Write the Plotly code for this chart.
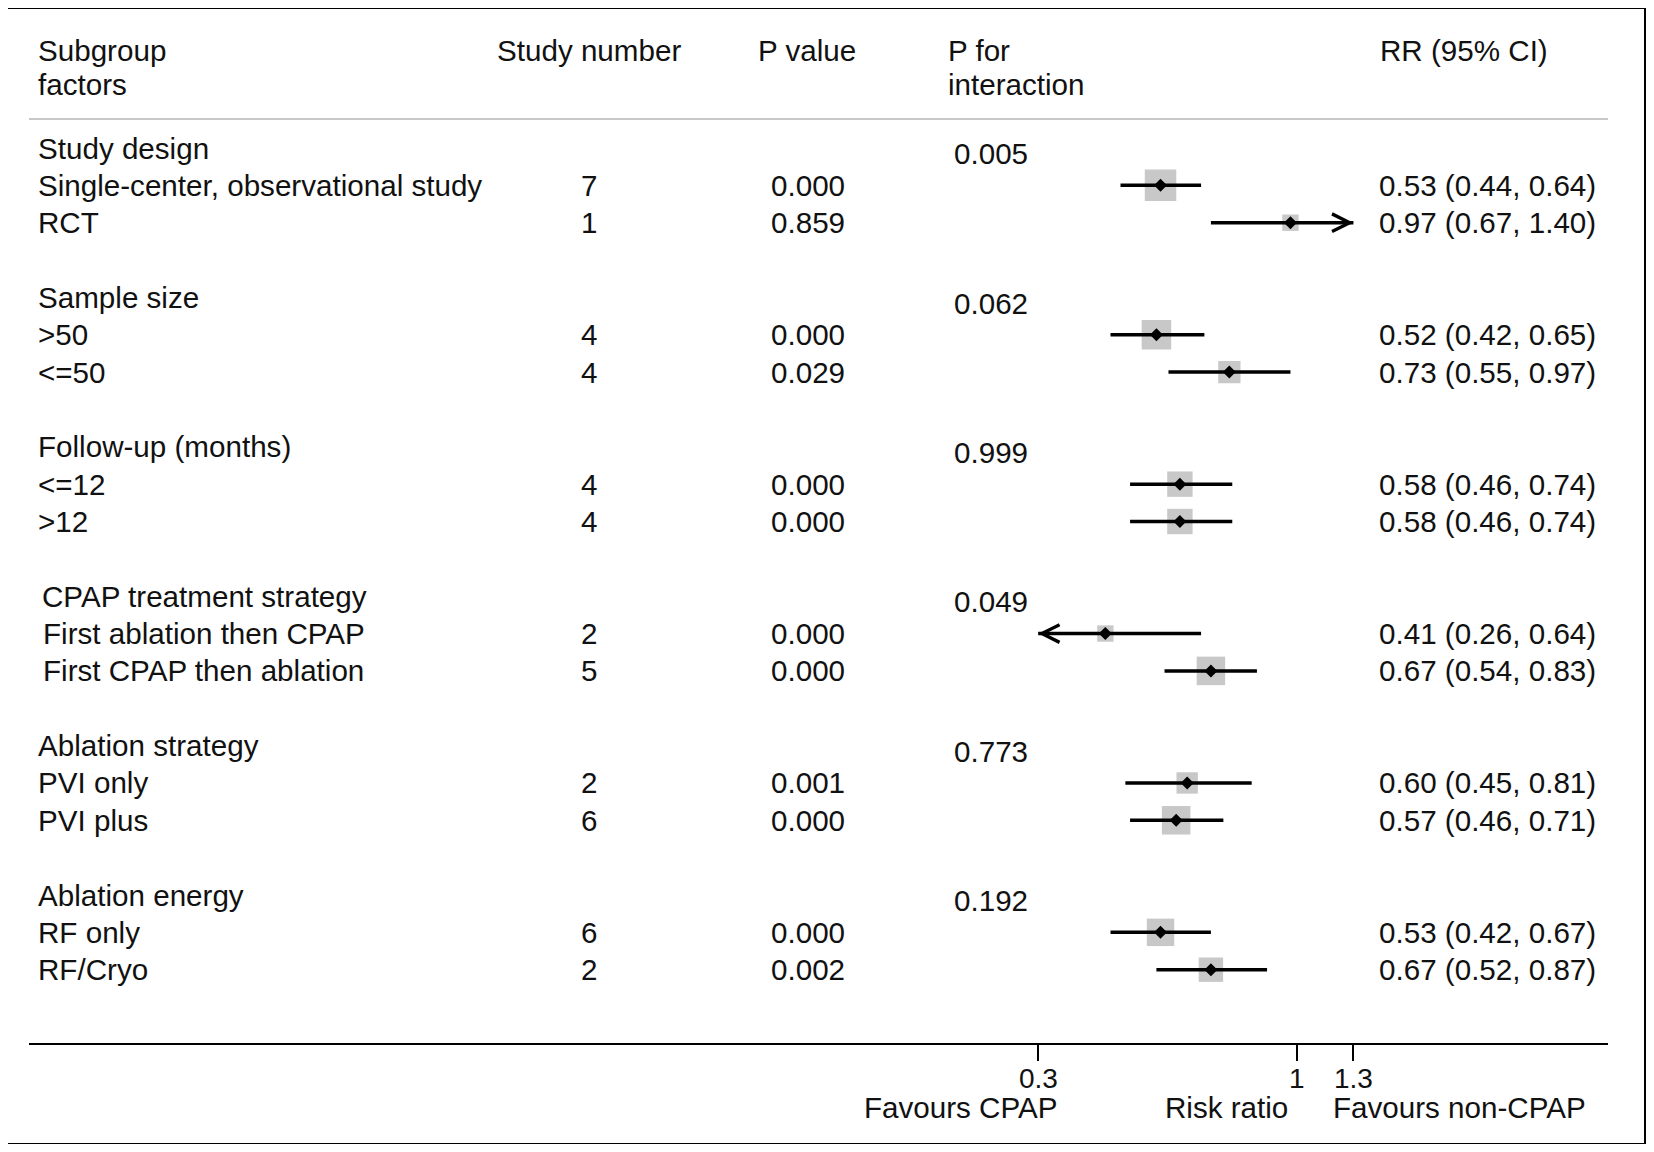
"""Forest plot of subgroup analyses: CPAP vs non-CPAP (risk ratio)."""

import math

import plotly.graph_objects as go

# ---- data -------------------------------------------------------------
GROUPS = [
    "Study design",
    "Sample size",
    "Follow-up (months)",
    "CPAP treatment strategy",
    "Ablation strategy",
    "Ablation energy",
]
P_INTERACTION = ["0.005", "0.062", "0.999", "0.049", "0.773", "0.192"]

SUBGROUPS = [
    "Single-center, observational study", "RCT",
    "&gt;50", "&lt;=50",
    "&lt;=12", "&gt;12",
    "First ablation then CPAP", "First CPAP then ablation",
    "PVI only", "PVI plus",
    "RF only", "RF/Cryo",
]
STUDY_N = [7, 1, 4, 4, 4, 4, 2, 5, 2, 6, 6, 2]
P_VALUES = ["0.000", "0.859", "0.000", "0.029", "0.000", "0.000",
            "0.000", "0.000", "0.001", "0.000", "0.000", "0.002"]
RR = [0.53, 0.97, 0.52, 0.73, 0.58, 0.58, 0.41, 0.67, 0.60, 0.57, 0.53, 0.67]
CI_LOW = [0.44, 0.67, 0.42, 0.55, 0.46, 0.46, 0.26, 0.54, 0.45, 0.46, 0.42, 0.52]
CI_HIGH = [0.64, 1.40, 0.65, 0.97, 0.74, 0.74, 0.64, 0.83, 0.81, 0.71, 0.67, 0.87]
WEIGHTS = [100, 27, 88, 50, 65, 65, 27, 82, 46, 82, 76, 60]  # relative study weight

AXIS_MIN, AXIS_MAX = 0.3, 1.3
TICKS = [0.3, 1, 1.3]
TICK_TEXT = ["0.3", "1", "1.3"]

# ---- layout geometry (screen pixels; the page body adds an 8px margin) ----
OFF = 8
W, H = 1654 - 2 * OFF, 1152 - 2 * OFF
PLOT_L, PLOT_R, PLOT_T, PLOT_B = 29, 1608, 119, 1043
ROW0, PITCH = 148, 37.35
PX_PER_DECADE = 495
X_ONE = 1297
LABEL_X = 36

FONT = "Liberation Sans, Arial, sans-serif"
FS = 29.6
INK = "#111111"


def row_of(px):
    return (px - ROW0) / PITCH


def paper_x(px):
    return (px - PLOT_L) / (PLOT_R - PLOT_L)


def paper_y(px):
    return (PLOT_B - px) / (PLOT_B - PLOT_T)


# each group: header row, two subgroup rows, blank row
group_rows = [4 * g for g in range(len(GROUPS))]
sub_rows = [4 * (k // 2) + 1 + k % 2 for k in range(len(SUBGROUPS))]

fig = go.Figure()

# weight boxes
fig.add_trace(go.Scatter(
    x=RR, y=sub_rows, mode="markers",
    marker=dict(symbol="square", color="#b0b0b0",
                size=[3.15 * math.sqrt(w) for w in WEIGHTS], line=dict(width=0)),
    hoverinfo="skip", showlegend=False, cliponaxis=False,
))

# confidence intervals, truncated at the axis limits
ci_x, ci_y, heads = [], [], []
for lo, hi, r in zip(CI_LOW, CI_HIGH, sub_rows):
    ci_x += [max(lo, AXIS_MIN), min(hi, AXIS_MAX), None]
    ci_y += [r, r, None]
    if lo < AXIS_MIN:
        heads.append((AXIS_MIN, -1, r))
    if hi > AXIS_MAX:
        heads.append((AXIS_MAX, 1, r))
fig.add_trace(go.Scatter(
    x=ci_x, y=ci_y, mode="lines", line=dict(color="black", width=3.5),
    hoverinfo="skip", showlegend=False,
))

# point estimates
fig.add_trace(go.Scatter(
    x=RR, y=sub_rows, mode="markers",
    marker=dict(symbol="diamond", color="black", size=10),
    customdata=[[n, p] for n, p in zip(STUDY_N, P_VALUES)],
    hovertemplate="RR %{x:.2f}<br>studies %{customdata[0]}<br>P %{customdata[1]}<extra></extra>",
    showlegend=False, cliponaxis=False,
))

annotations = []


def text(x, y, s, anchor="left", xref="paper", yref="y", size=FS, **kw):
    annotations.append(dict(
        x=x, y=y, xref=xref, yref=yref, text=s, showarrow=False,
        xanchor=anchor, yanchor="middle", font=dict(family=FONT, size=size, color=INK), **kw,
    ))


# open arrow heads where a CI runs past the axis
for end, direction, r in heads:
    tip = math.log10(end)
    annotations.append(dict(
        x=tip, y=r, ax=tip - 0.02 * direction, ay=r,
        xref="x", yref="y", axref="x", ayref="y", text="",
        showarrow=True, arrowhead=5, arrowsize=1.15, arrowwidth=3, arrowcolor="black",
    ))

# column headers (above the plotting area)
top, second = paper_y(51), paper_y(84)
text(paper_x(LABEL_X), top, "Subgroup", yref="paper")
text(paper_x(LABEL_X), second, "factors", yref="paper")
text(paper_x(589), top, "Study number", anchor="center", yref="paper")
text(paper_x(807), top, "P value", anchor="center", yref="paper")
text(paper_x(946), top, "P for", yref="paper")
text(paper_x(946), second, "interaction", yref="paper")
text(paper_x(1378), top, "RR (95% CI)", yref="paper")

# group headers + interaction p
for g, (name, p) in enumerate(zip(GROUPS, P_INTERACTION)):
    indent = 4 if name.startswith("CPAP") else 0
    text(paper_x(LABEL_X + indent), group_rows[g], name)
    text(paper_x(952), group_rows[g] + 0.15, p)

# subgroup rows
for k, r in enumerate(sub_rows):
    indent = 5 if GROUPS[k // 2].startswith("CPAP") else 0
    text(paper_x(LABEL_X + indent), r, SUBGROUPS[k])
    text(paper_x(589), r, str(STUDY_N[k]), anchor="center")
    text(paper_x(808), r, P_VALUES[k], anchor="center")
    text(paper_x(1377), r, f"{RR[k]:.2f} ({CI_LOW[k]:.2f}, {CI_HIGH[k]:.2f})")

# tick labels and axis captions
for t, lab in zip(TICKS, TICK_TEXT):
    text(math.log10(t), paper_y(1078), lab, anchor="center", xref="x", yref="paper", size=28)
cap = paper_y(1107)
text(math.log10(0.3), cap, "Favours CPAP", anchor="right", xref="x", yref="paper", xshift=22)
text(0, cap, "Risk ratio", anchor="right", xref="x", yref="paper", xshift=-7)
text(math.log10(1.3), cap, "Favours non-CPAP", anchor="left", xref="x", yref="paper", xshift=-22)

x_lo = -(X_ONE - PLOT_L) / PX_PER_DECADE
x_hi = (PLOT_R - X_ONE) / PX_PER_DECADE

fig.update_layout(
    width=W, height=H,
    margin=dict(l=PLOT_L - OFF, r=W - (PLOT_R - OFF), t=PLOT_T - OFF,
                b=H - (PLOT_B - OFF), pad=0),
    paper_bgcolor="white", plot_bgcolor="white",
    font=dict(family=FONT, size=FS, color=INK),
    annotations=annotations,
    shapes=[
        # outer frame
        dict(type="rect", xref="paper", yref="paper",
             x0=paper_x(7), x1=paper_x(1645), y0=paper_y(1144), y1=paper_y(8),
             line=dict(color="black", width=2)),
        # header rule
        dict(type="line", xref="paper", yref="paper", x0=0, x1=1, y0=1, y1=1,
             line=dict(color="#c8c8c8", width=2)),
        # line of no effect
        dict(type="line", xref="x", yref="paper", x0=0, x1=0, y0=0, y1=1,
             line=dict(color="black", width=2)),
    ],
    hovermode="closest",
)
fig.update_xaxes(
    type="log", range=[x_lo, x_hi], showgrid=False, zeroline=False,
    showline=True, linecolor="black", linewidth=2,
    ticks="outside", ticklen=16, tickwidth=2, tickcolor="black",
    tickmode="array", tickvals=TICKS, showticklabels=False,
)
fig.update_yaxes(
    range=[row_of(PLOT_B), row_of(PLOT_T)], visible=False,
    showgrid=False, zeroline=False,
)

fig.write_html("out.html")
